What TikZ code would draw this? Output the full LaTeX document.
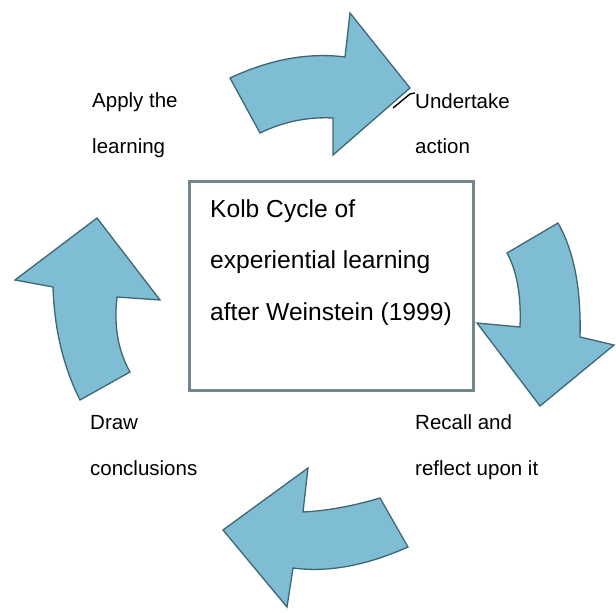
\documentclass[tikz,border=0pt]{standalone}
\usepackage{fontspec}
\setmainfont{Liberation Sans}
\definecolor{arrowfill}{HTML}{7FBDD4}
\definecolor{arrowline}{HTML}{3E6673}
\definecolor{boxline}{HTML}{75868A}
\begin{document}
\begin{tikzpicture}[x=1pt,y=-1pt,
  cyclearrow/.style={fill=arrowfill,draw=arrowline,line width=1.3pt,line join=miter},
  lab/.style={anchor=base west,inner sep=0pt,font=\fontsize{20.5}{24}\selectfont},
  boxtext/.style={anchor=base west,inner sep=0pt,font=\fontsize{24.6}{28}\selectfont},
  leader/.style={draw=black,line width=1.4pt}]
\useasboundingbox (0,0) rectangle (616,613);
\fill[white] (0,0) rectangle (616,613);

% central box
\node[draw=boxline,line width=2.5pt,fill=white,minimum width=284pt,minimum height=209pt,
      anchor=north west,inner sep=0pt] (box) at (188,180) {};
\node[boxtext] (t1) at (210,217) {Kolb Cycle of};
\node[boxtext] (t2) at (210,268) {experiential learning};
\node[boxtext] (t3) at (210,320) {after Weinstein (1999)};

% top arrow
\draw[cyclearrow] (230,78) .. controls (270,59.3) and (308.3,52.3) .. (345,57) -- (350,13) -- (410,88)
  -- (333,155) -- (333,118) .. controls (307.7,116.7) and (283.3,121.7) .. (260,133) -- cycle;
% right arrow
\draw[cyclearrow] (558,223) .. controls (574,251) and (581.3,289) .. (580,337) -- (614,345) -- (540,406)
  -- (477,323) -- (520,327) .. controls (521.3,295.7) and (517,271) .. (507,253) -- cycle;
% bottom arrow
\draw[cyclearrow] (408,547) .. controls (366,565.7) and (327.7,572.7) .. (293,568) -- (287,607) -- (223,530)
  -- (308,468) -- (303,512) .. controls (327.7,510.7) and (353.3,506) .. (380,498) -- cycle;
% left arrow
\draw[cyclearrow] (80,400) .. controls (63.3,366.7) and (54.3,329) .. (53,287) -- (15,280) -- (97,218)
  -- (160,300) -- (117,297) .. controls (113.7,325.7) and (118,350.7) .. (130,372) -- cycle;

% labels
\node[lab] (apply1) at (92,107) {Apply the};
\node[lab] (apply2) at (92,153) {learning};
\node[lab] (under1) at (415,108) {Undertake};
\node[lab] (under2) at (415,153) {action};
\node[lab] (draw1) at (90,429) {Draw};
\node[lab] (draw2) at (90,475) {conclusions};
\node[lab] (rec1) at (415,429) {Recall and};
\node[lab] (rec2) at (415,475) {reflect upon it};

\coordinate (leadstart) at (393,108);
\draw[leader] (leadstart) -- (410,94) -- (under1.north west);
\end{tikzpicture}
\end{document}
